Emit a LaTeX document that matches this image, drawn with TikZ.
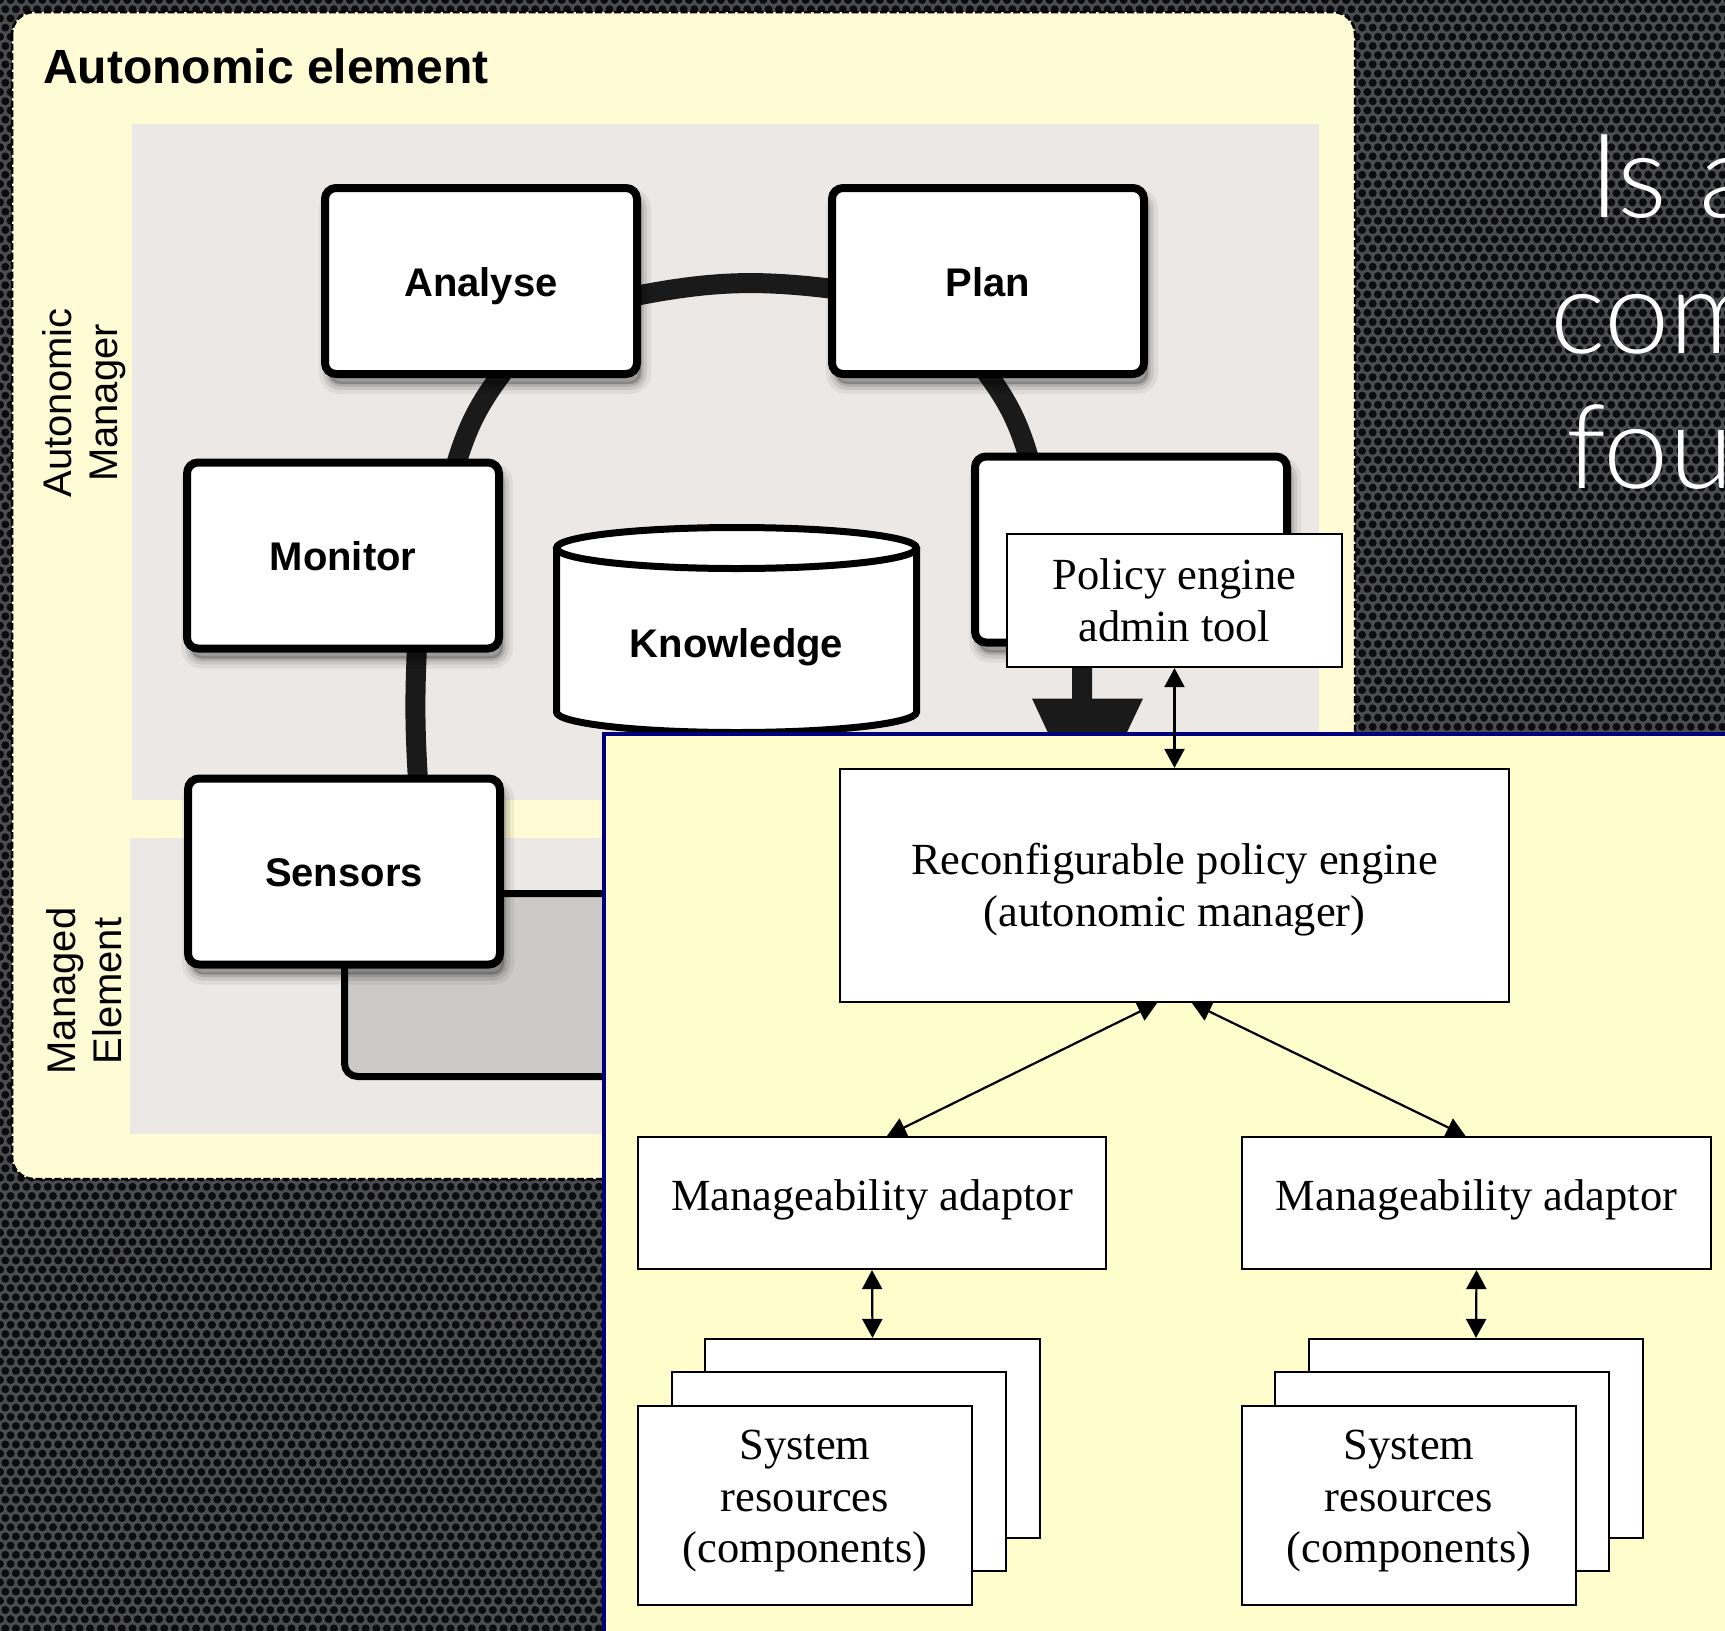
\documentclass[tikz,border=0pt]{standalone}
\usepackage{fontspec}
\setmainfont{Liberation Serif}
\newfontfamily\helv{Liberation Sans}
\newfontfamily\tms{Liberation Serif}
\IfFontExistsTF{Lato Light}{\newfontfamily\thinsans{Lato Light}}{\newfontfamily\thinsans{Liberation Sans}}
\usetikzlibrary{arrows.meta,calc}

\definecolor{bgdark}{HTML}{4B4C50}
\definecolor{hole}{HTML}{0C0C0E}
\definecolor{panelyel}{HTML}{FFFBD4}
\definecolor{ovyel}{HTML}{FFFDCB}
\definecolor{mgray}{HTML}{ECE8E6}
\definecolor{dgray}{HTML}{CBCAC8}
\definecolor{navyline}{HTML}{00007F}
\definecolor{conn}{HTML}{1A1A1A}

\newcommand\mapefont{\helv\bfseries\fontsize{40}{46}\selectfont}
\newcommand\sidefont{\helv\fontsize{40}{46}\selectfont}
\newcommand\serifbody{\tms\fontsize{44.5}{51.5}\selectfont}
% struts that nudge a text block up or down inside its box
\newcommand\tallfirst[1]{\rule{0pt}{#1}}
\newcommand\deeplast[1]{\rule[-#1]{0pt}{0pt}}

\pgfdeclarelayer{links}
\pgfdeclarelayer{front}
\pgfsetlayers{main,links,front}

\begin{document}
\begin{tikzpicture}[x=1pt,y=-1pt,
  softshadow/.style={
    preaction={draw=black, draw opacity=0.06, line width=20pt, transform canvas={shift={(4pt,-10pt)}}},
    preaction={draw=black, draw opacity=0.09, line width=12pt, transform canvas={shift={(4pt,-10pt)}}},
    preaction={draw=black, draw opacity=0.12, line width=5pt, transform canvas={shift={(4pt,-10pt)}}},
    preaction={fill=black, fill opacity=0.22, transform canvas={shift={(4pt,-10pt)}}}},
  mape/.style={draw=black, line width=8pt, fill=white, rounded corners=11pt,
    minimum width=312pt, minimum height=186pt, inner sep=0pt, font=\mapefont,
    text height=30pt, text depth=0pt, softshadow},
  loopline/.style={draw=conn, line width=20pt},
  plainbox/.style={draw=black, line width=2.2pt, fill=white, inner sep=0pt, align=center, font=\serifbody},
  dbl/.style={line width=2.2pt, arrows={Triangle[length=19pt,width=20pt]-Triangle[length=19pt,width=20pt]}},
  sidelabel/.style={rotate=90, align=center, inner sep=0pt, font=\sidefont},
  bigtext/.style={anchor=base west, inner sep=0pt, text=white, font=\thinsans\fontsize{117}{136}\selectfont}
]
\useasboundingbox (0,0) rectangle (1725,1631);

% perforated dark backdrop
\fill[bgdark] (0,0) rectangle (1725,1631);
\foreach \yy in {0,18.4,...,745} {\fill[hole] \foreach \xx in {1346.2,1356.8,...,1735} {(\xx,\yy) circle (4)};}
\foreach \yy in {9.2,27.6,...,745} {\fill[hole] \foreach \xx in {1351.5,1362.1,...,1735} {(\xx,\yy) circle (4)};}
\foreach \yy in {1177.6,1196,...,1640} {\fill[hole] \foreach \xx in {0,10.6,...,615} {(\xx,\yy) circle (4)};}
\foreach \yy in {1168.4,1186.8,...,1640} {\fill[hole] \foreach \xx in {-5.3,5.3,...,615} {(\xx,\yy) circle (4)};}
\foreach \yy in {0,18.4} {\fill[hole] \foreach \xx in {0,10.6,...,1350} {(\xx,\yy) circle (4)};}
\foreach \yy in {9.2,27.6} {\fill[hole] \foreach \xx in {-5.3,5.3,...,1350} {(\xx,\yy) circle (4)};}
\foreach \yy in {36.8,55.2,...,1180} {\fill[hole] \foreach \xx in {0,10.6,21.2} {(\xx,\yy) circle (4)};}
\foreach \yy in {46,64.4,...,1180} {\fill[hole] \foreach \xx in {-5.3,5.3,15.9} {(\xx,\yy) circle (4)};}

% autonomic element panel
\filldraw[fill=panelyel, draw=black, line width=2.5pt, dash pattern=on 7pt off 2.5pt, rounded corners=22pt]
  (12,12) rectangle (1355,1179);
\fill[mgray] (132,124) rectangle (1319,800);
\fill[mgray] (130,838) rectangle (1319,1134);

% managed resource behind the sensors
\filldraw[fill=dgray, draw=black, line width=7pt, rounded corners=13pt] (344.5,893.5) rectangle (760,1076.5);

\node[anchor=base west, inner sep=0pt, font=\helv\bfseries\fontsize{48}{56}\selectfont] (title) at (43,83) {Autonomic element};
\node[sidelabel] (amlab) at (84,403) {Autonomic\\Manager};
\node[sidelabel] (melab) at (84,991) {Managed\\Element};

\begin{pgfonlayer}{front}
% MAPE loop
\node[mape] (an) at (481,281) {Analyse};
\node[mape] (pl) at (988,281) {Plan};
\node[mape] (mo) at (343,555.5) {Monitor};
\node[mape] (ex) at (1131,549.5) {};
\node[mape] (se) at (344,871.5) {Sensors};
\end{pgfonlayer}

\begin{pgfonlayer}{links}
\draw[loopline] ($(an.east)+(-6,15)$) to[bend left=9] ($(pl.west)+(6,8)$);
\draw[loopline] ($(an.south)+(22,-6)$) to[bend right=10] ($(mo.north)+(113,6)$);
\draw[loopline] ($(pl.south)+(-2,-6)$) to[bend left=10] ($(ex.north)+(-102,6)$);
\draw[loopline] ($(mo.south)+(74,-6)$) to[bend right=3] ($(se.north)+(74,6)$);
\fill[conn] ($(ex.south)+(-59,-6)$) -- ++(20,0) -- ++(0,58) -- ++(51,0) -- ++(-56,118) -- ++(-55,-118) -- ++(40,0) -- cycle;
\end{pgfonlayer}

\begin{pgfonlayer}{front}
% knowledge store
\filldraw[fill=white, draw=black, line width=7pt]
  (556.5,548) -- (556.5,712) .. controls (556.5,723.3) and (637.1,732.5) .. (736.5,732.5)
  .. controls (835.9,732.5) and (916.5,723.3) .. (916.5,712) -- (916.5,548);
\filldraw[fill=white, draw=black, line width=7pt] (736.5,548) ellipse [x radius=180, y radius=20.5];
\node[inner sep=0pt, font=\mapefont] (kn) at (736.5,647) {Knowledge};

\node[plainbox, minimum width=335pt, minimum height=133pt] (at) at (1174.5,600.5) {Policy engine\\admin tool};

% policy engine panel
\filldraw[fill=ovyel, draw=navyline, line width=4.5pt] (604,734) rectangle (1760,1660);

\node[plainbox, minimum width=669pt, minimum height=233pt] (rc) at (1174.5,885.5)
  {\tallfirst{40pt}Reconfigurable policy engine\\(autonomic manager)};
\node[plainbox, minimum width=468pt, minimum height=132pt] (adL) at (872,1203) {Manageability adaptor\deeplast{16.5pt}};
\node[plainbox, minimum width=469pt, minimum height=132pt] (adR) at (1476.5,1203) {Manageability adaptor\deeplast{16.5pt}};

\node[plainbox, minimum width=335pt, minimum height=199pt] (srL3) at (872.5,1438.5) {};
\node[plainbox, minimum width=334pt, minimum height=199pt] (srL2) at (839,1471.5) {};
\node[plainbox, minimum width=334pt, minimum height=199pt] (srL1) at (805,1505.5) {System\\resources\\(components)\deeplast{17.7pt}};
\node[plainbox, minimum width=334pt, minimum height=199pt] (srR3) at (1476,1438.5) {};
\node[plainbox, minimum width=334pt, minimum height=199pt] (srR2) at (1442,1471.5) {};
\node[plainbox, minimum width=334pt, minimum height=199pt] (srR1) at (1409,1505.5) {System\\resources\\(components)\deeplast{17.7pt}};

\draw[dbl] (at.south) -- (rc.north);
\draw[dbl] ($(rc.south)+(-17.5,0)$) -- ($(adL.north)+(15,0)$);
\draw[dbl] ($(rc.south)+(17.5,0)$) -- ($(adR.north)+(-11,0)$);
\draw[dbl] (adL.south) -- (srL3.north);
\draw[dbl] (adR.south) -- (srR3.north);

% slide text
\node[bigtext] (l1) at (1589,217) {Is a};
\node[bigtext] (l2) at (1550,353) {com};
\node[bigtext] (l3) at (1566,488) {fou};
\end{pgfonlayer}
\end{tikzpicture}
\end{document}
